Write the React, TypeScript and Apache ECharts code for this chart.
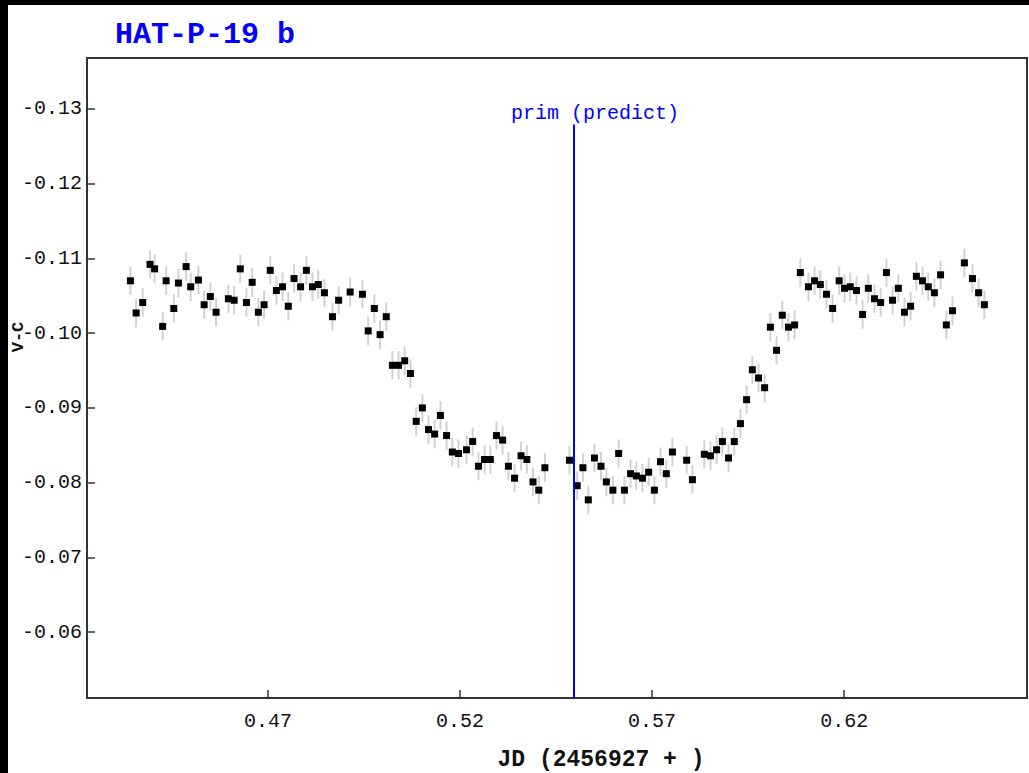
import React, { useEffect, useRef } from "react";
import * as echarts from "echarts";

// Julian date offsets (JD - 2456927)
const jd: number[] = [
  0.4342, 0.4357, 0.4374, 0.4393, 0.4405, 0.4426, 0.4435, 0.4455, 0.4467, 0.4487,
  0.4499, 0.4519, 0.4534, 0.4550, 0.4565, 0.4597, 0.4612, 0.4628, 0.4644, 0.4659,
  0.4675, 0.4690, 0.4706, 0.4722, 0.4738, 0.4753, 0.4768, 0.4785, 0.4800, 0.4816,
  0.4831, 0.4847, 0.4868, 0.4884, 0.4914, 0.4946, 0.4961, 0.4977, 0.4992, 0.5008,
  0.5024, 0.5040, 0.5056, 0.5071, 0.5086, 0.5102, 0.5118, 0.5134, 0.5149, 0.5165,
  0.5180, 0.5196, 0.5217, 0.5233, 0.5248, 0.5264, 0.5279, 0.5295, 0.5311, 0.5326,
  0.5342, 0.5359, 0.5374, 0.5390, 0.5405, 0.5421, 0.5485, 0.5505, 0.5520, 0.5534,
  0.5550, 0.5567, 0.5581, 0.5598, 0.5613, 0.5628, 0.5644, 0.5659, 0.5675, 0.5691,
  0.5706, 0.5722, 0.5737, 0.5753, 0.5790, 0.5805, 0.5836, 0.5852, 0.5868, 0.5883,
  0.5899, 0.5914, 0.5930, 0.5946, 0.5961, 0.5977, 0.5993, 0.6008, 0.6024, 0.6039,
  0.6055, 0.6071, 0.6086, 0.6107, 0.6123, 0.6138, 0.6154, 0.6170, 0.6187, 0.6201,
  0.6216, 0.6232, 0.6248, 0.6263, 0.6279, 0.6295, 0.6310, 0.6326, 0.6341, 0.6357,
  0.6373, 0.6388, 0.6404, 0.6419, 0.6435, 0.6451, 0.6466, 0.6482, 0.6513, 0.6534,
  0.6550, 0.6565,
];

// V-C magnitudes
const vc: number[] = [
  -0.1070, -0.1027, -0.1041, -0.1092, -0.1086, -0.1009, -0.1070, -0.1033, -0.1067, -0.1089,
  -0.1062, -0.1071, -0.1038, -0.1049, -0.1028, -0.1046, -0.1044, -0.1086, -0.1041, -0.1068,
  -0.1028, -0.1038, -0.1084, -0.1057, -0.1062, -0.1036, -0.1073, -0.1062, -0.1084, -0.1062,
  -0.1065, -0.1054, -0.1022, -0.1044, -0.1055, -0.1052, -0.1003, -0.1033, -0.0998, -0.1022,
  -0.0957, -0.0957, -0.0963, -0.0946, -0.0882, -0.0900, -0.0871, -0.0865, -0.0890, -0.0863,
  -0.0841, -0.0839, -0.0844, -0.0855, -0.0822, -0.0831, -0.0831, -0.0863, -0.0857, -0.0822,
  -0.0806, -0.0836, -0.0831, -0.0801, -0.0790, -0.0820, -0.0830, -0.0796, -0.0820, -0.0777,
  -0.0833, -0.0822, -0.0801, -0.0790, -0.0839, -0.0790, -0.0812, -0.0809, -0.0806, -0.0814,
  -0.0790, -0.0828, -0.0812, -0.0841, -0.0830, -0.0804, -0.0838, -0.0836, -0.0844, -0.0855,
  -0.0833, -0.0855, -0.0879, -0.0911, -0.0951, -0.0940, -0.0927, -0.1008, -0.0977, -0.1024,
  -0.1008, -0.1011, -0.1081, -0.1062, -0.1070, -0.1065, -0.1052, -0.1033, -0.1070, -0.1060,
  -0.1062, -0.1057, -0.1025, -0.1060, -0.1046, -0.1041, -0.1081, -0.1044, -0.1060, -0.1028,
  -0.1036, -0.1076, -0.1070, -0.1062, -0.1054, -0.1078, -0.1011, -0.1030, -0.1094, -0.1073,
  -0.1054, -0.1038,
];

// Photometric error (mag), same for every point
const ERR = 0.0019;

const xTicks: number[] = [0.47, 0.52, 0.57, 0.62];
const yTicks: number[] = [-0.13, -0.12, -0.11, -0.10, -0.09, -0.08, -0.07, -0.06];

const X_MIN = 0.4229;
const X_MAX = 0.6676;
const Y_MIN = -0.1368;
const Y_MAX = -0.0512;

// predicted primary minimum
const primPredict = 0.5497;
const primTop = -0.1279;

const FONT = "Liberation Mono";

export default function App() {
  const ref = useRef<HTMLDivElement>(null);

  useEffect(() => {
    const chart = echarts.init(ref.current!, null, { renderer: "svg" });
    const pts = jd.map((x, i) => [x, vc[i]]);

    chart.setOption({
      animation: false,
      backgroundColor: "#ffffff",
      title: {
        text: "HAT-P-19 b",
        left: 107,
        top: 15,
        padding: 0,
        textStyle: {
          color: "#0000ff",
          fontFamily: FONT,
          fontWeight: "bold",
          fontSize: 30,
        },
      },
      grid: {
        left: 79,
        top: 53,
        right: 2,
        bottom: 75,
        show: true,
        borderColor: "#333333",
        borderWidth: 2,
        backgroundColor: "#ffffff",
      },
      xAxis: {
        type: "value",
        min: X_MIN,
        max: X_MAX,
        splitLine: { show: false },
        axisLine: { show: false },
        axisTick: {
          show: true,
          inside: true,
          length: 8,
          customValues: xTicks,
          lineStyle: { color: "#333333", width: 1.5 },
        },
        axisLabel: {
          customValues: xTicks,
          formatter: (v: number) => v.toFixed(2),
          margin: 13,
          fontFamily: FONT,
          fontSize: 20,
          color: "#111111",
        },
      },
      yAxis: {
        type: "value",
        inverse: true,
        min: Y_MIN,
        max: Y_MAX,
        splitLine: { show: false },
        axisLine: { show: false },
        axisTick: {
          show: true,
          inside: true,
          length: 8,
          customValues: yTicks,
          lineStyle: { color: "#333333", width: 1.5 },
        },
        axisLabel: {
          customValues: yTicks,
          formatter: (v: number) => v.toFixed(2),
          margin: 5,
          fontFamily: FONT,
          fontSize: 20,
          color: "#111111",
        },
      },
      graphic: [
        {
          type: "text",
          x: 10,
          y: 332,
          rotation: Math.PI / 2,
          style: {
            text: "V-C",
            fontFamily: FONT,
            fontWeight: "bold",
            fontSize: 17,
            fill: "#111111",
            textAlign: "center",
            textVerticalAlign: "middle",
          },
        },
        {
          type: "text",
          x: 593,
          y: 755,
          style: {
            text: "JD (2456927 + )",
            fontFamily: FONT,
            fontWeight: "bold",
            fontSize: 23,
            fill: "#111111",
            textAlign: "center",
            textVerticalAlign: "middle",
          },
        },
        {
          type: "text",
          x: 587,
          y: 108,
          style: {
            text: "prim (predict)",
            fontFamily: FONT,
            fontSize: 20,
            fill: "#0000ff",
            textAlign: "center",
            textVerticalAlign: "middle",
          },
        },
      ],
      series: [
        {
          type: "custom",
          data: pts,
          encode: { x: 0, y: 1 },
          silent: true,
          z: 1,
          renderItem: (params: any, api: any) => {
            const x = api.value(0);
            const y = api.value(1);
            const p1 = api.coord([x, y - ERR]);
            const p2 = api.coord([x, y + ERR]);
            return {
              type: "line",
              shape: { x1: p1[0], y1: p1[1], x2: p2[0], y2: p2[1] },
              style: { stroke: "#d2d2d2", lineWidth: 2 },
            };
          },
        },
        {
          type: "scatter",
          data: pts,
          symbol: "rect",
          symbolSize: 7,
          itemStyle: { color: "#000000", opacity: 1 },
          z: 3,
          silent: true,
          markLine: {
            silent: true,
            symbol: "none",
            label: { show: false },
            lineStyle: { color: "#0000ff", width: 2, type: "solid", opacity: 1 },
            data: [
              [
                { coord: [primPredict, primTop] },
                { coord: [primPredict, Y_MAX] },
              ],
            ],
          },
        },
      ],
    });

    return () => chart.dispose();
  }, []);

  return (
    <div
      style={{
        position: "fixed",
        left: 0,
        top: 0,
        width: 1029,
        height: 773,
        background: "#000000",
        overflow: "hidden",
      }}
    >
      <div
        ref={ref}
        style={{
          position: "absolute",
          left: 8,
          top: 5,
          width: 1021,
          height: 768,
          background: "#ffffff",
        }}
      />
    </div>
  );
}
